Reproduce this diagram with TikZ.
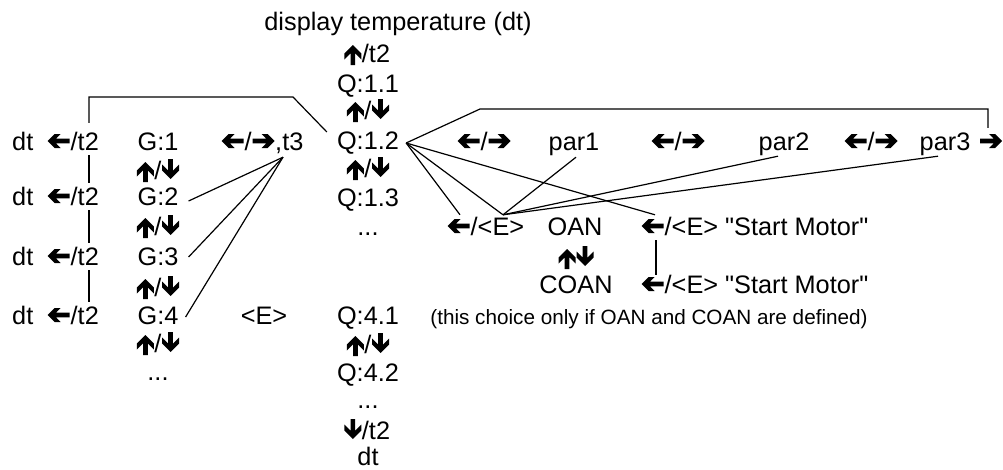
\documentclass[tikz,border=0pt]{standalone}
\usepackage{fontspec}
\setmainfont{Liberation Sans}
\newfontfamily\plainfont{Liberation Sans}
\usetikzlibrary{calc}
\newcommand{\arL}{\kern0.5pt\tikz[baseline=0pt,x=1pt,y=1pt]\fill[black] (0,9)--(7,16)--(13,16)--(8.3,11.3)--(22,11.3)--(22,6.7)--(8.3,6.7)--(13,2)--(7,2)--cycle;\kern1pt}
\newcommand{\arR}{\kern1pt\tikz[baseline=0pt,x=-1pt,y=1pt]\fill[black] (0,9)--(7,16)--(13,16)--(8.3,11.3)--(22,11.3)--(22,6.7)--(8.3,6.7)--(13,2)--(7,2)--cycle;\kern0.5pt}
\newcommand{\arU}{\kern0.5pt\tikz[baseline=0pt,x=1pt,y=1pt]\fill[black] (8.5,17)--(0,8.5)--(0,2.5)--(6.2,8.7)--(6.2,-3)--(10.8,-3)--(10.8,8.7)--(17,2.5)--(17,8.5)--cycle;\kern0.5pt}
\newcommand{\arD}{\kern0.5pt\tikz[baseline=0pt,x=1pt,y=1pt]\fill[black] (8.5,0)--(0,8.5)--(0,14.5)--(6.2,8.3)--(6.2,20)--(10.8,20)--(10.8,8.3)--(17,14.5)--(17,8.5)--cycle;\kern0.5pt}
\newcommand{\dq}{{\plainfont\char34}}
\tikzset{
  lbl/.style={font=\fontsize{25.3}{30}\selectfont, inner sep=0pt, text height=18pt, text depth=0pt},
  note/.style={font=\fontsize{20.7}{25}\selectfont, inner sep=0pt, text height=15pt, text depth=0pt},
  conn/.style={line width=1.2pt, black}
}
\begin{document}
\begin{tikzpicture}[x=1pt,y=-1pt]
\useasboundingbox[fill=white] (0,0) rectangle (1003,469);
% centre column
\node[lbl] (title) at (398,21) {display temperature (dt)};
\node[lbl] (qa0) at (367,53) {\arU/t2};
\node[lbl] (q11) at (368,83) {Q:1.1};
\node[lbl] (qa1) at (368,110) {\arU/\arD};
\node[lbl] (q12) at (368,140) {Q:1.2};
\node[lbl] (qa2) at (368,168) {\arU/\arD};
\node[lbl] (q13) at (368,197) {Q:1.3};
\node[lbl] (qd1) at (368,226) {...};
\node[lbl] (q41) at (368,315) {Q:4.1};
\node[lbl] (qa3) at (368,344) {\arU/\arD};
\node[lbl] (q42) at (368,372) {Q:4.2};
\node[lbl] (qd2) at (368,399) {...};
\node[lbl] (qa4) at (367,430) {\arD/t2};
\node[lbl] (qdt) at (368,456) {dt};
% left columns
\node[lbl,anchor=west] (dt1) at (12,141) {dt};
\node[lbl,anchor=west] (dt2) at (12,196) {dt};
\node[lbl,anchor=west] (dt3) at (12,256) {dt};
\node[lbl,anchor=west] (dt4) at (12,315) {dt};
\node[lbl,anchor=west] (lt1) at (47,141) {\arL/t2};
\node[lbl,anchor=west] (lt2) at (47,196) {\arL/t2};
\node[lbl,anchor=west] (lt3) at (47,256) {\arL/t2};
\node[lbl,anchor=west] (lt4) at (47,315) {\arL/t2};
\node[lbl] (g1) at (158,141) {G:1};
\node[lbl] (g2) at (158,196) {G:2};
\node[lbl] (g3) at (158,256) {G:3};
\node[lbl] (g4) at (158,315) {G:4};
\node[lbl] (ga1) at (158,170) {\arU/\arD};
\node[lbl] (ga2) at (158,226) {\arU/\arD};
\node[lbl] (ga3) at (158,287) {\arU/\arD};
\node[lbl] (ga4) at (158,343) {\arU/\arD};
\node[lbl] (gd) at (158,371) {...};
\node[lbl,anchor=west] (t3) at (221,141) {\arL/\arR,t3};
\node[lbl] (ee) at (264,315) {<E>};
% right part
\node[lbl,anchor=west] (lr1) at (457,141) {\arL/\arR};
\node[lbl] (par1) at (574,141) {par1};
\node[lbl,anchor=west] (lr2) at (651,141) {\arL/\arR};
\node[lbl] (par2) at (784,141) {par2};
\node[lbl,anchor=west] (lr3) at (844,141) {\arL/\arR};
\node[lbl] (par3) at (945,141) {par3};
\node[lbl,anchor=west] (pr) at (979,141) {\arR};
\node[lbl,anchor=west] (e1) at (447,226) {\arL/<E>};
\node[lbl] (oan) at (575,226) {OAN};
\node[lbl,anchor=west] (sm1) at (641,226) {\arL/<E> \dq Start Motor\dq};
\node[lbl] (ud) at (576,257) {\arU\arD};
\node[lbl] (coan) at (576,284) {COAN};
\node[lbl,anchor=west] (sm2) at (641,284) {\arL/<E> \dq Start Motor\dq};
\node[note] (nt) at (649,317) {(this choice only if OAN and COAN are defined)};
% connectors left
\coordinate (k2) at (293,97);
\draw[conn] ($(lt1.north west)+(42,-9)$) |- (k2) -- ($(q12.west)+(-10,-8)$);
\draw[conn] ($(lt1.south west)+(42,5)$) -- ($(lt2.north west)+(42,-4)$);
\draw[conn] ($(lt2.south west)+(42,5)$) -- ($(lt3.north west)+(42,-4)$);
\draw[conn] ($(lt3.south west)+(42,5)$) -- ($(lt4.north west)+(42,-4)$);
\coordinate (t3pt) at ($(t3.south west)+(62,7)$);
\draw[conn] (t3pt) -- ($(g2.east)+(10,5)$);
\draw[conn] (t3pt) -- ($(g3.east)+(10,1)$);
\draw[conn] (t3pt) -- ($(g4.east)+(7,2)$);
% connectors right
\coordinate (hub) at ($(q12.east)+(7,3)$);
\coordinate (k1) at (480,109);
\draw[conn] (hub) -- (k1) -| ($(pr.north west)+(9,-4)$);
\draw[conn] (hub) -- ($(e1.north west)+(13,-2)$);
\coordinate (ept) at ($(e1.north west)+(56,-2)$);
\draw[conn] (hub) -- (ept);
\draw[conn] (hub) -- ($(sm1.north west)+(14,-2)$);
\draw[conn] ($(par1.south)+(2,7)$) -- (ept);
\draw[conn] ($(par2.south)+(-6,6)$) -- (ept);
\draw[conn] ($(par3.south)+(-7,6)$) -- (ept);
\draw[conn] ($(sm1.south west)+(15,5)$) -- ($(sm2.north west)+(15,0)$);
\end{tikzpicture}
\end{document}
